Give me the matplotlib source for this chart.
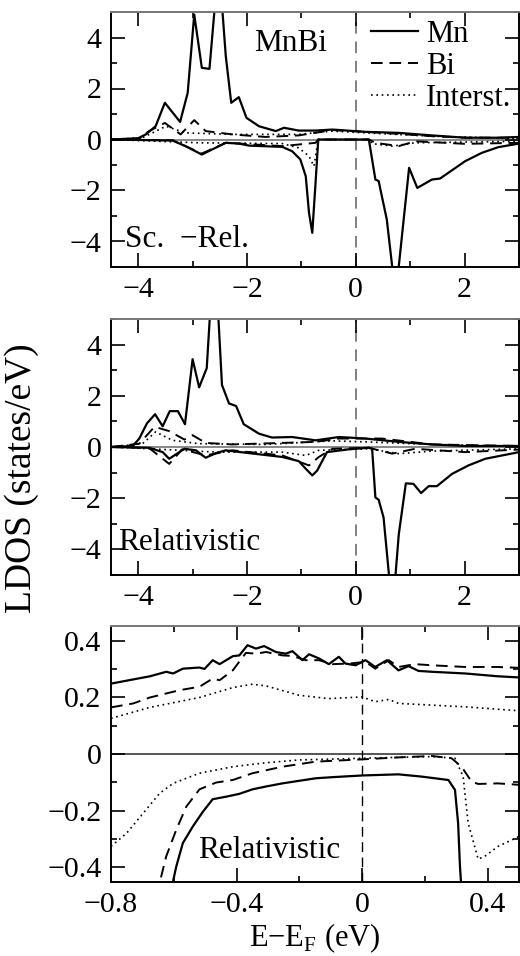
import numpy as np
import matplotlib
matplotlib.use('Agg')
import matplotlib.pyplot as plt
from matplotlib.lines import Line2D
from matplotlib.ticker import MultipleLocator

plt.rcParams['font.family'] = ['Liberation Serif', 'DejaVu Serif']
plt.rcParams['mathtext.fontset'] = 'custom'
plt.rcParams['mathtext.rm'] = 'Liberation Serif'

# ---- panel 1: MnBi, scalar-relativistic (E in eV, LDOS in states/eV)
p1_mn_up_e = [-4.5, -4.0, -3.86, -3.68, -3.51, -3.23, -3.09, -2.97, -2.83, -2.69, -2.52, -2.39, -2.29, -2.15,
              -2.01, -1.78, -1.47, -1.32, -1.05, -0.74, -0.43, 0.18, 0.79, 1.4, 2.01, 2.62, 3.0]
p1_mn_up = [0.0, 0.05, 0.2, 0.52, 1.44, 0.69, 1.83, 4.9, 2.81, 2.77, 7.0, 3.27, 1.44, 1.66,
            0.85, 0.52, 0.33, 0.46, 0.35, 0.35, 0.39, 0.3, 0.26, 0.16, 0.07, 0.07, 0.1]
p1_mn_dn_e = [-4.5, -3.37, -3.13, -2.83, -2.64, -2.39, -2.15, -1.96, -1.35, -1.17, -1.02, -0.92, -0.86, -0.8,
              -0.74, -0.69, 0.24, 0.36, 0.42, 0.57, 0.67, 0.73, 0.79, 0.88, 0.98, 1.13, 1.4, 1.55, 2.01,
              2.32, 2.62, 3.0]
p1_mn_dn = [0.0, -0.04, -0.26, -0.59, -0.39, -0.13, -0.16, -0.24, -0.29, -0.46, -0.78, -1.44, -2.88, -3.66,
            -1.7, 0.0, 0.0, -1.57, -1.63, -3.14, -5.0, -6.0, -4.97, -3.14, -1.11, -1.9, -1.57, -1.53, -0.85,
            -0.52, -0.3, -0.16]
p1_bi_up_e = [-4.5, -3.98, -3.8, -3.51, -3.22, -2.97, -2.76, -2.27, -1.66, -1.05, -0.43, 0.18, 0.79, 1.4, 2.01, 3.0]
p1_bi_up = [0.0, 0.03, 0.33, 0.65, 0.2, 0.76, 0.33, 0.2, 0.1, 0.16, 0.37, 0.3, 0.22, 0.13, 0.07, 0.07]
p1_bi_dn_e = [-4.5, -3.37, -2.83, -2.39, -1.35, -0.74, -0.69, 0.24, 0.36, 0.79, 1.09, 2.01, 3.0]
p1_bi_dn = [0.0, -0.03, -0.55, -0.13, -0.26, -0.13, 0.0, 0.0, -0.13, -0.26, -0.07, -0.17, -0.13]
p1_in_up_e = [-4.5, -3.92, -3.49, -3.13, -2.27, -1.05, -0.43, 0.18, 1.4, 3.0]
p1_in_up = [0.0, 0.07, 0.52, 0.26, 0.2, 0.2, 0.33, 0.26, 0.13, 0.03]
p1_in_dn_e = [-4.5, -2.88, -1.35, -1.05, -0.86, -0.77, -0.71, -0.69, 0.24, 0.3, 0.67, 1.09, 2.01, 3.0]
p1_in_dn = [0.0, -0.13, -0.16, -0.33, -0.65, -1.05, -0.26, 0.0, 0.0, -0.16, -0.26, -0.13, -0.1, -0.07]

# ---- panel 2: MnBi, fully relativistic
p2_mn_up_e = [-4.5, -4.1, -3.98, -3.84, -3.69, -3.55, -3.42, -3.27, -3.14, -3.0, -2.88, -2.74, -2.6, -2.46,
              -2.33, -2.2, -2.06, -1.78, -1.54, -1.17, -0.74, -0.31, 0.18, 0.79, 1.4, 2.01, 3.0]
p2_mn_up = [0.0, 0.04, 0.33, 0.92, 1.28, 0.81, 1.4, 1.4, 0.89, 3.43, 2.33, 3.08, 8.0, 2.42,
            1.7, 1.6, 0.89, 0.52, 0.37, 0.39, 0.26, 0.39, 0.33, 0.2, 0.1, 0.04, 0.04]
p2_mn_dn_e = [-4.5, -3.8, -3.55, -3.43, -3.15, -2.94, -2.76, -2.57, -2.39, -1.96, -1.35, -1.05, -0.92, -0.8,
              -0.71, -0.53, -0.13, 0.24, 0.3, 0.36, 0.42, 0.51, 0.61, 0.67, 0.73, 0.79, 0.92, 1.06, 1.2,
              1.34, 1.49, 1.77, 2.07, 2.38, 3.0]
p2_mn_dn = [0.0, -0.03, -0.2, -0.46, -0.07, -0.13, -0.42, -0.24, -0.13, -0.24, -0.39, -0.55, -0.85, -1.11,
            -0.92, -0.2, -0.09, -0.03, -0.07, -1.97, -2.06, -2.75, -5.0, -6.0, -5.0, -3.41, -1.42, -1.44, -1.8,
            -1.53, -1.53, -1.05, -0.72, -0.46, -0.2]
p2_bi_up_e = [-4.5, -3.98, -3.7, -3.43, -3.15, -3.0, -2.76, -2.27, -1.35, -0.74, -0.31, 0.48, 1.4, 3.0]
p2_bi_up = [0.0, 0.13, 0.79, 0.62, 0.29, 0.46, 0.16, 0.1, 0.16, 0.2, 0.33, 0.33, 0.1, 0.04]
p2_bi_dn_e = [-4.5, -3.8, -3.43, -3.19, -2.76, -2.27, -1.35, -0.86, -0.68, -0.43, 0.24, 0.67, 1.09, 2.01, 3.0]
p2_bi_dn = [0.0, -0.04, -0.66, -0.09, -0.33, -0.13, -0.33, -0.72, -0.39, -0.07, -0.03, -0.26, -0.07, -0.2, -0.1]
p2_in_up_e = [-4.5, -3.92, -3.68, -3.37, -2.88, -1.66, -0.43, 0.18, 1.4, 3.0]
p2_in_up = [0.0, 0.13, 0.59, 0.26, 0.13, 0.1, 0.24, 0.2, 0.1, 0.03]
p2_in_dn_e = [-4.5, -3.49, -2.57, -1.35, -0.92, -0.68, 0.24, 0.79, 1.4, 3.0]
p2_in_dn = [0.0, -0.1, -0.2, -0.2, -0.33, -0.13, -0.07, -0.26, -0.16, -0.07]

# ---- panel 3: zoom around E_F, relativistic
p3_mn_up_e = [-0.8, -0.729, -0.676, -0.624, -0.602, -0.571, -0.518, -0.502, -0.476, -0.454, -0.412, -0.391,
              -0.365, -0.338, -0.312, -0.275, -0.243, -0.222, -0.19, -0.169, -0.137, -0.106, -0.074, -0.053,
              -0.021, 0.011, 0.042, 0.079, 0.116, 0.148, 0.18, 0.222, 0.328, 0.433, 0.5]
p3_mn_up = [0.249, 0.264, 0.275, 0.291, 0.285, 0.302, 0.306, 0.301, 0.332, 0.318, 0.346, 0.349,
            0.385, 0.373, 0.382, 0.361, 0.355, 0.364, 0.332, 0.353, 0.338, 0.318, 0.344, 0.32,
            0.314, 0.332, 0.308, 0.332, 0.296, 0.311, 0.294, 0.291, 0.285, 0.275, 0.271]
p3_bi_up_e = [-0.8, -0.729, -0.676, -0.581, -0.518, -0.476, -0.454, -0.412, -0.37, -0.338, -0.306, -0.254,
              -0.222, -0.18, -0.137, -0.095, -0.042, 0.011, 0.042, 0.085, 0.116, 0.169, 0.222, 0.328, 0.433, 0.5]
p3_bi_up = [0.165, 0.179, 0.2, 0.226, 0.238, 0.267, 0.261, 0.296, 0.358, 0.355, 0.361, 0.349,
            0.347, 0.332, 0.332, 0.318, 0.32, 0.326, 0.302, 0.332, 0.308, 0.318, 0.314, 0.308, 0.308, 0.305]
p3_in_up_e = [-0.8, -0.676, -0.518, -0.412, -0.349, -0.306, -0.201, -0.106, 0.0, 0.042, 0.085, 0.116,
              0.222, 0.328, 0.5]
p3_in_up = [0.126, 0.165, 0.2, 0.235, 0.247, 0.241, 0.208, 0.196, 0.202, 0.185, 0.193, 0.179,
            0.173, 0.167, 0.153]
p3_mn_dn_e = [-0.612, -0.592, -0.571, -0.539, -0.507, -0.476, -0.433, -0.391, -0.349, -0.306, -0.254, -0.201,
              -0.148, -0.095, 0.0, 0.116, 0.19, 0.275, 0.296, 0.306, 0.312, 0.318]
p3_mn_dn = [-0.5, -0.398, -0.315, -0.256, -0.204, -0.16, -0.151, -0.141, -0.125, -0.115, -0.104, -0.095,
            -0.086, -0.082, -0.076, -0.072, -0.08, -0.092, -0.127, -0.245, -0.4, -0.5]
p3_bi_dn_e = [-0.655, -0.624, -0.592, -0.56, -0.518, -0.465, -0.412, -0.349, -0.254, -0.148, 0.0, 0.116,
              0.222, 0.285, 0.317, 0.349, 0.37, 0.433, 0.5]
p3_bi_dn = [-0.5, -0.362, -0.268, -0.186, -0.125, -0.101, -0.092, -0.068, -0.045, -0.027, -0.019, -0.012,
            -0.007, -0.015, -0.045, -0.098, -0.106, -0.104, -0.109]
p3_in_dn_e = [-0.8, -0.75, -0.697, -0.645, -0.602, -0.518, -0.412, -0.306, -0.201, 0.0, 0.222, 0.296,
              0.322, 0.338, 0.37, 0.391, 0.433, 0.5]
p3_in_dn = [-0.327, -0.28, -0.209, -0.139, -0.104, -0.068, -0.045, -0.031, -0.021, -0.015, -0.009, -0.015,
            -0.08, -0.245, -0.372, -0.362, -0.327, -0.292]

labels = ['Mn', 'Bi', 'Interst.']

FS = 21.5    # tick labels
TFS = 22.5   # annotations / legend
mn_style = dict(color='black', lw=1.6, ls='-')
bi_style = dict(color='black', lw=1.4, ls=(0, (6, 3.5)))
in_style = dict(color='black', lw=1.2, ls=(0, (1, 2.2)))

fig = plt.figure(figsize=(5.2, 9.56), dpi=100)
W, H = 520.0, 956.0
L, R = 111 / W, 519 / W
boxes = [(12, 267), (319, 575), (626, 882)]
axes = []
for top, bot in boxes:
    axes.append(fig.add_axes([L, 1 - bot / H, R - L, (bot - top) / H]))

panels = [
    (p1_mn_up_e, p1_mn_up, p1_mn_dn_e, p1_mn_dn, p1_bi_up_e, p1_bi_up, p1_bi_dn_e, p1_bi_dn,
     p1_in_up_e, p1_in_up, p1_in_dn_e, p1_in_dn),
    (p2_mn_up_e, p2_mn_up, p2_mn_dn_e, p2_mn_dn, p2_bi_up_e, p2_bi_up, p2_bi_dn_e, p2_bi_dn,
     p2_in_up_e, p2_in_up, p2_in_dn_e, p2_in_dn),
    (p3_mn_up_e, p3_mn_up, p3_mn_dn_e, p3_mn_dn, p3_bi_up_e, p3_bi_up, p3_bi_dn_e, p3_bi_dn,
     p3_in_up_e, p3_in_up, p3_in_dn_e, p3_in_dn),
]


def fmt(t):
    if abs(t) < 1e-9:
        return '0'
    return ('%g' % t).replace('-', '\u2212')


for i, (ax, d) in enumerate(zip(axes, panels)):
    zcol = '#888888' if i < 2 else '#555555'
    ax.axhline(0, color=zcol, lw=1.4, zorder=1)
    if i < 2:
        ax.axvline(0, color='#808080', lw=1.4, ls=(0, (6, 4)), zorder=1)
    else:
        ax.axvline(0, color='black', lw=1.0, ls=(0, (7, 4)), zorder=1)
    ax.plot(d[0], d[1], **mn_style)
    ax.plot(d[2], d[3], **mn_style)
    ax.plot(d[4], d[5], **bi_style)
    ax.plot(d[6], d[7], **bi_style)
    ax.plot(d[8], d[9], **in_style)
    ax.plot(d[10], d[11], **in_style)

    if i < 2:
        ax.set_xlim(-4.5, 3)
        ax.set_ylim(-5, 5)
        ax.xaxis.set_major_locator(MultipleLocator(2))
        ax.xaxis.set_minor_locator(MultipleLocator(1))
        ax.yaxis.set_major_locator(MultipleLocator(2))
        ax.yaxis.set_minor_locator(MultipleLocator(1))
    else:
        ax.set_xlim(-0.8, 0.5)
        ax.set_ylim(-0.453, 0.453)
        ax.xaxis.set_major_locator(MultipleLocator(0.4))
        ax.xaxis.set_minor_locator(MultipleLocator(0.2))
        ax.yaxis.set_major_locator(MultipleLocator(0.2))
        ax.yaxis.set_minor_locator(MultipleLocator(0.1))
        ax.set_xticks(ax.get_xticks())
        ax.set_xticklabels([fmt(t) for t in ax.get_xticks()])
        ax.set_yticks(ax.get_yticks())
        ax.set_yticklabels([fmt(t) for t in ax.get_yticks()])
        ax.set_xlim(-0.8, 0.5)
        ax.set_ylim(-0.453, 0.453)

    ax.tick_params(which='both', direction='in', top=True, right=True, labelsize=FS, pad=7)
    ax.tick_params(which='major', length=10, width=1.2)
    ax.tick_params(which='minor', length=4.5, width=1.2)
    for s in ['left', 'bottom', 'right']:
        ax.spines[s].set_linewidth(1.4)
    ax.spines['top'].set_color('#777777')
    ax.spines['top'].set_linewidth(1.4)

axes[0].text(0.44, 0.878, 'MnBi', transform=axes[0].transAxes, fontsize=TFS, ha='center', va='center')
axes[0].text(0.034, 0.106, 'Sc.  \u2212Rel.', transform=axes[0].transAxes, fontsize=TFS, va='center')
axes[1].text(0.017, 0.125, 'Relativistic', transform=axes[1].transAxes, fontsize=TFS, va='center')
axes[2].text(0.213, 0.125, 'Relativistic', transform=axes[2].transAxes, fontsize=TFS, va='center')

handles = [Line2D([], [], **mn_style), Line2D([], [], **bi_style), Line2D([], [], **in_style)]
axes[0].legend(handles, labels, loc='upper right', frameon=False, fontsize=22, handlelength=1.55,
               handletextpad=0.26, labelspacing=0.1, borderaxespad=0.0, borderpad=0.25)

fig.text(0.042, 0.5, 'LDOS (states/eV)', rotation=90, fontsize=27, ha='center', va='center')
axes[2].set_xlabel(r'E$-$E$_\mathrm{F}$ (eV)', fontsize=22, labelpad=3)

fig.savefig('out.png', dpi=100)
